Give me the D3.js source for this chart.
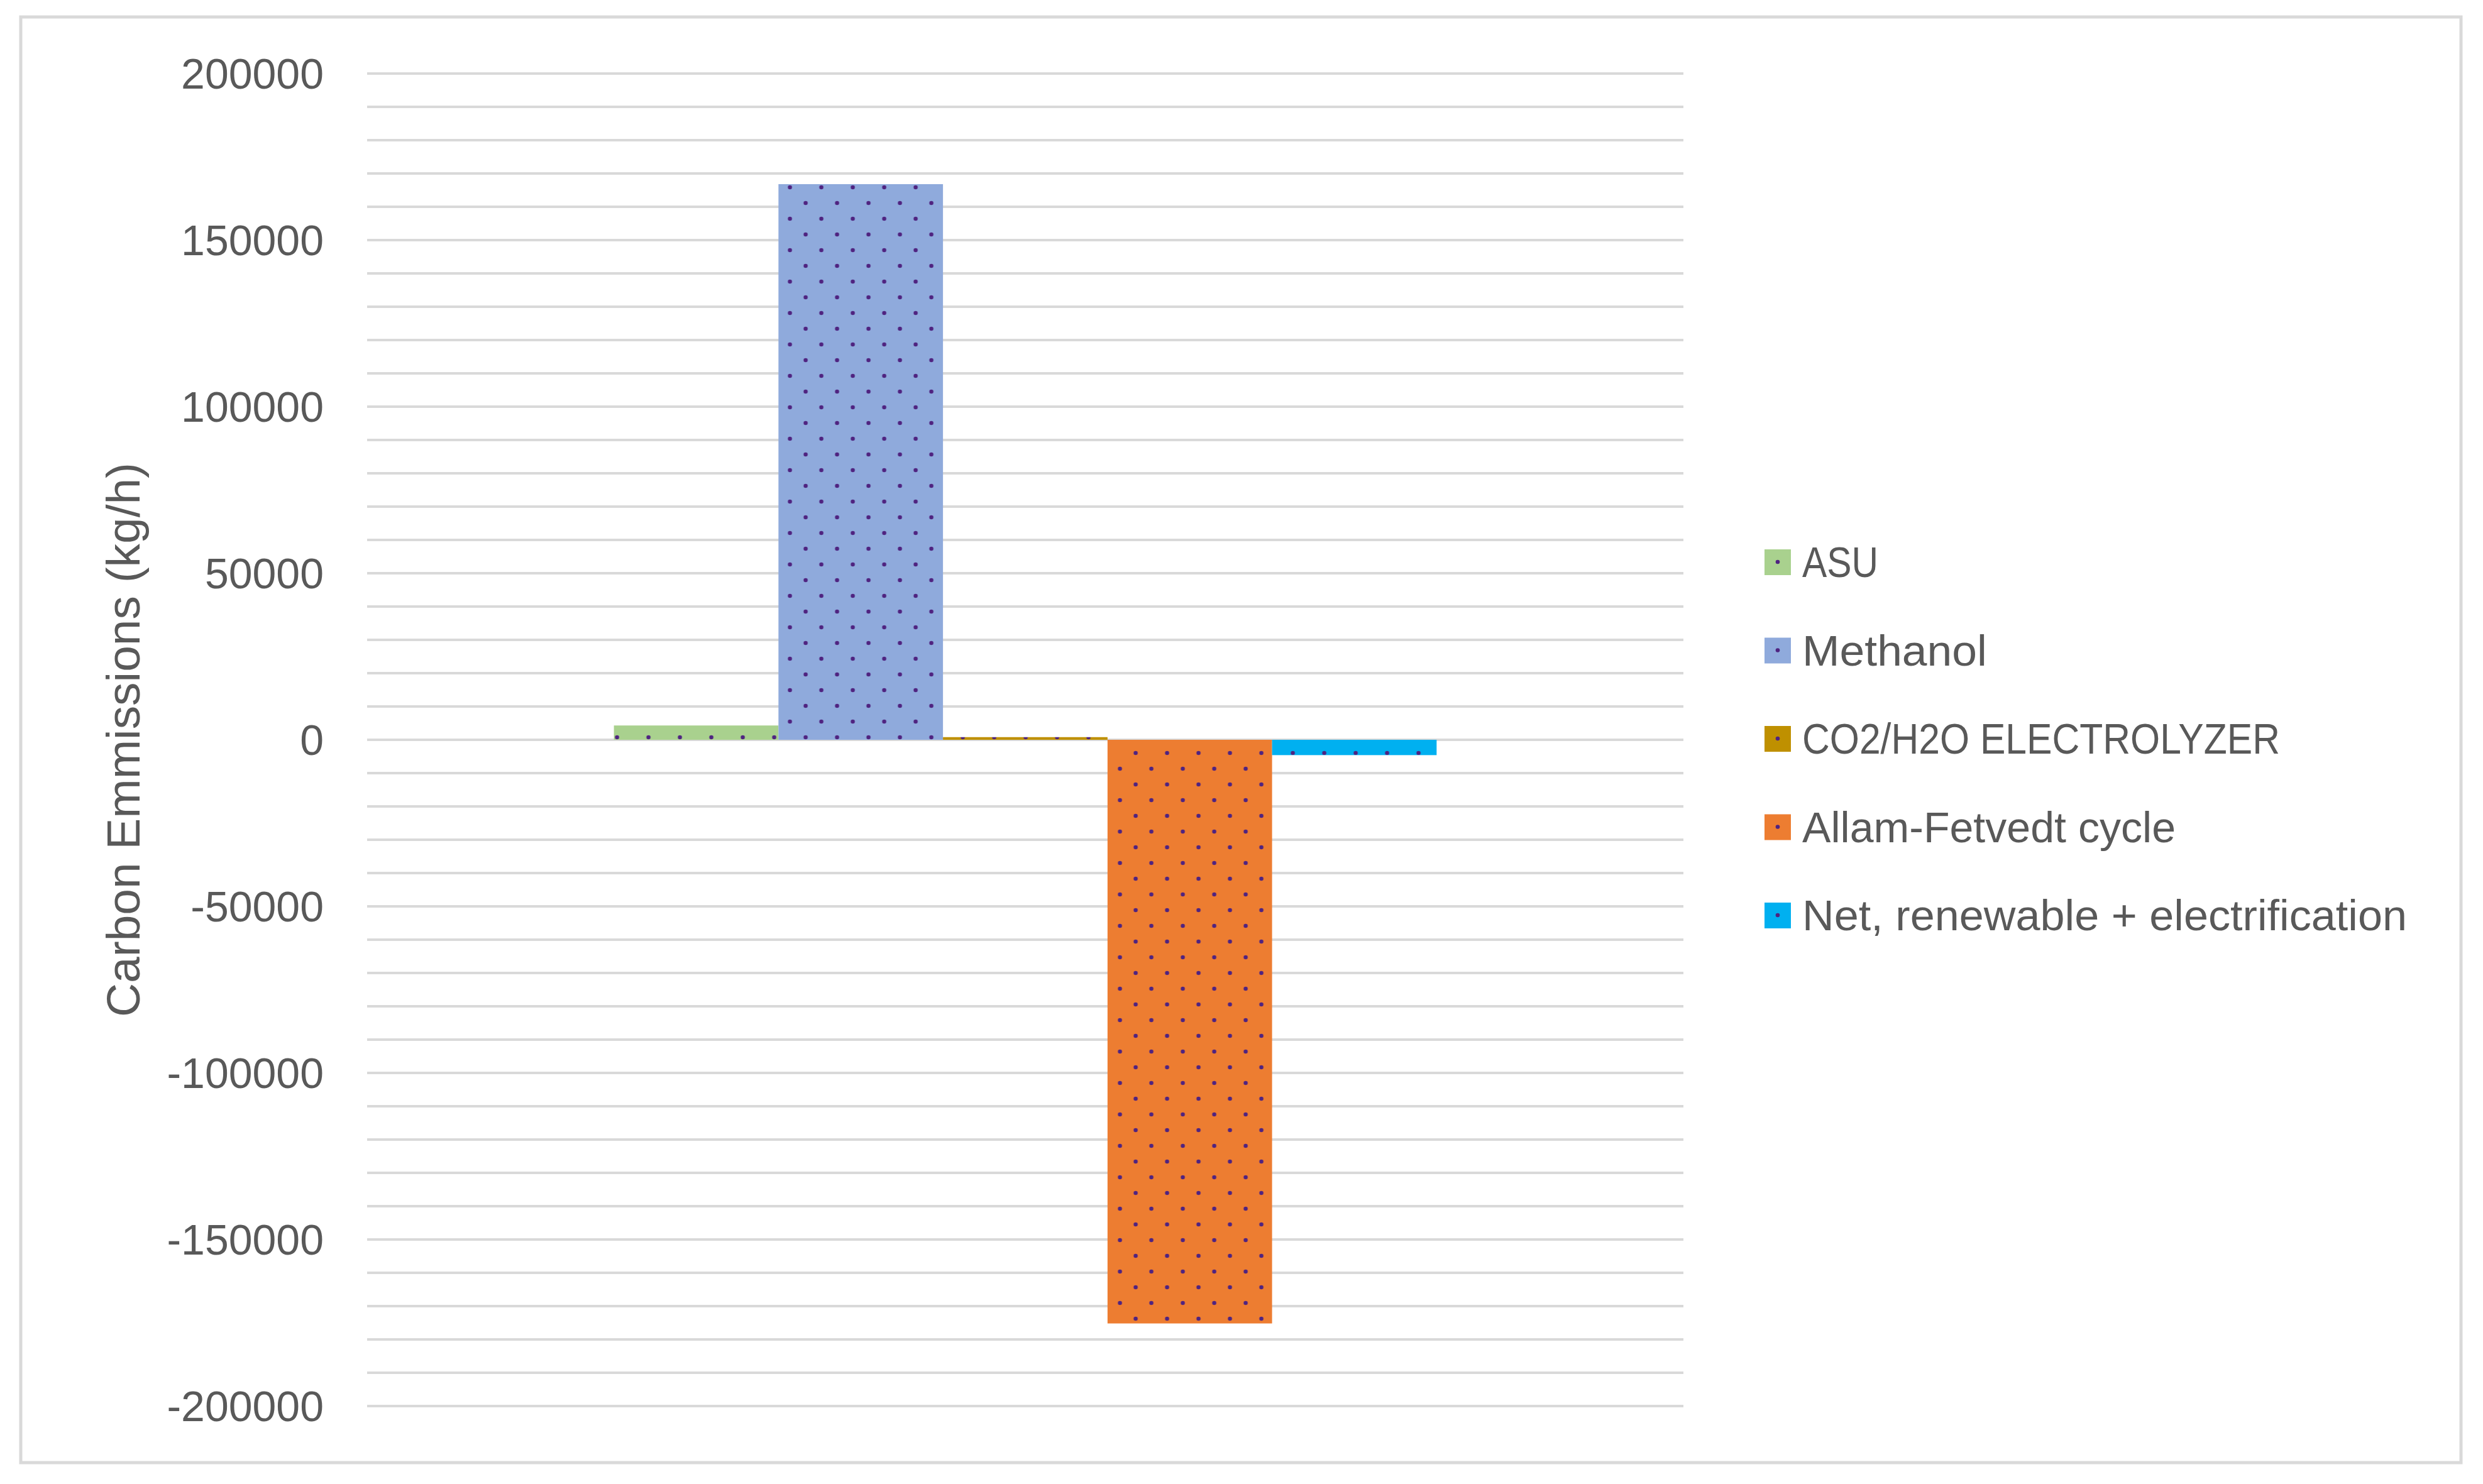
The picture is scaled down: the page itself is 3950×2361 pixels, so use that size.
<!DOCTYPE html>
<html>
<head>
<meta charset="utf-8">
<script src="https://cdn.jsdelivr.net/npm/d3@7"></script>
<style>
  html, body { margin: 0; padding: 0; background: #ffffff; }
  svg { display: block; }
  text { font-family: "Liberation Sans", Arial, sans-serif; fill: #595959; }
</style>
</head>
<body>
<svg id="chart" width="3950" height="2361"></svg>
<script>
// ---------- DATA ----------
const categories = ["Carbon emissions"];
const seriesNames = ["ASU", "Methanol", "CO2/H2O ELECTROLYZER", "Allam-Fetvedt cycle", "Net, renewable + electrification"];
const seriesValues = [4300, 166800, 800, -175200, -4600];
const yTickLabels = [200000, 150000, 100000, 50000, 0, -50000, -100000, -150000, -200000];
const yAxisTitle = "Carbon Emmissions (kg/h)";

// ---------- STYLE / LAYOUT ----------
const seriesColors = ["#a9d18e", "#8faadc", "#bf9000", "#ed7d31", "#00b0f0"];
const dotColor = "#4f2380";
const gridColor = "#d9d9d9";
const legendLabelWidths = [121, 294, 760, 594, 962];
const plot = { left: 584, right: 2678, top: 117, bottom: 2237 };

const svg = d3.select("#chart");
svg.append("rect").attr("width", 3950).attr("height", 2361).attr("fill", "#ffffff");

// chart area border
svg.append("rect")
  .attr("x", 33).attr("y", 27).attr("width", 3915 - 33).attr("height", 2327 - 27)
  .attr("fill", "none").attr("stroke", gridColor).attr("stroke-width", 5);

// dotted patterns per series
const defs = svg.append("defs");
const dotR = 3.3;
seriesColors.forEach((c, i) => {
  const p = defs.append("pattern")
    .attr("id", "pat" + i)
    .attr("patternUnits", "userSpaceOnUse")
    .attr("x", 5).attr("y", 23)
    .attr("width", 50).attr("height", 50);
  p.append("rect").attr("width", 50).attr("height", 50).attr("fill", c);
  [[0, 0], [50, 0], [0, 50], [50, 50], [25, 25]].forEach(([cx, cy]) => {
    p.append("circle").attr("cx", cx).attr("cy", cy).attr("r", dotR).attr("fill", dotColor);
  });
});

// scales
const y = d3.scaleLinear().domain([-200000, 200000]).range([plot.bottom, plot.top]);
const x0 = d3.scaleBand().domain(categories).range([plot.left, plot.right]).paddingInner(0).paddingOuter(0.3);
const x1 = d3.scaleBand().domain(seriesNames).range([0, x0.bandwidth()]).padding(0);

// gridlines (every 10000)
const gridVals = d3.range(-200000, 200001, 10000);
svg.append("g")
  .selectAll("line").data(gridVals).join("line")
  .attr("x1", plot.left).attr("x2", plot.right)
  .attr("y1", d => y(d)).attr("y2", d => y(d))
  .attr("stroke", gridColor).attr("stroke-width", 4);

// y axis labels (plain hyphen minus, as in the reference)
const yAxis = d3.axisLeft(y).tickValues(yTickLabels).tickSize(0).tickPadding(0).tickFormat(d => String(d));
const gy = svg.append("g").attr("transform", `translate(${515},0)`).call(yAxis);
gy.select(".domain").remove();
gy.selectAll("text")
  .attr("font-family", "Liberation Sans, Arial, sans-serif")
  .attr("font-size", 68)
  .attr("fill", "#595959")
  .attr("dy", "0.35em");

// bars
const groups = svg.append("g").selectAll("g").data(categories).join("g")
  .attr("transform", d => `translate(${x0(d)},0)`);
groups.selectAll("rect")
  .data(() => seriesNames.map((s, i) => ({ name: s, value: seriesValues[i], idx: i })))
  .join("rect")
  .attr("x", d => x1(d.name))
  .attr("width", x1.bandwidth())
  .attr("y", d => y(Math.max(0, d.value)))
  .attr("height", d => Math.abs(y(d.value) - y(0)))
  .attr("fill", d => `url(#pat${d.idx})`);

// y axis title
svg.append("text")
  .attr("transform", `translate(196,${y(0)}) rotate(-90)`)
  .attr("text-anchor", "middle")
  .attr("dominant-baseline", "central")
  .attr("font-size", 74)
  .attr("textLength", 882)
  .attr("lengthAdjust", "spacingAndGlyphs")
  .text(yAxisTitle);

// legend
const legendTop = 894, legendStep = 140.5;
const lg = svg.append("g").selectAll("g").data(seriesNames).join("g")
  .attr("transform", (d, i) => `translate(2807,${legendTop + i * legendStep})`);
lg.append("rect")
  .attr("x", 0).attr("y", -20).attr("width", 42).attr("height", 41)
  .attr("fill", (d, i) => seriesColors[i]);
lg.append("circle").attr("cx", 21).attr("cy", 0).attr("r", dotR).attr("fill", dotColor);
lg.append("text")
  .attr("x", 60).attr("y", 0)
  .attr("dominant-baseline", "central")
  .attr("font-size", 68)
  .attr("textLength", (d, i) => legendLabelWidths[i])
  .attr("lengthAdjust", "spacingAndGlyphs")
  .text(d => d);
</script>
</body>
</html>
